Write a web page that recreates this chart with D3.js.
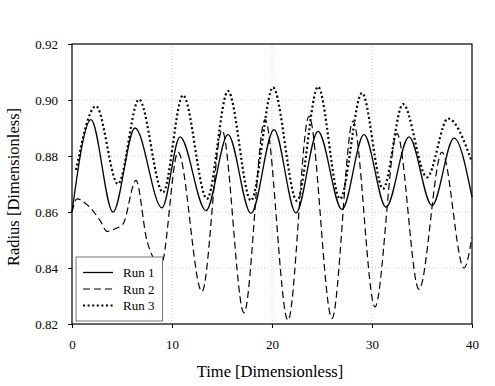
<!DOCTYPE html>
<html><head><meta charset="utf-8">
<script src="https://cdn.jsdelivr.net/npm/d3@7"></script>
<style>body{margin:0;background:#fff}svg{display:block}svg text{font-family:'Liberation Serif','Times New Roman',serif}</style>
</head><body>
<script>
// Data
const xTicks = [0, 10, 20, 30, 40];
const yTicks = [0.82, 0.84, 0.86, 0.88, 0.90, 0.92];
const seriesNames = ["Run 1", "Run 2", "Run 3"];

const run1T = [0, 1.9, 4.1, 6.3, 9.0, 10.8, 13.4, 15.6, 17.9, 20.2, 22.4, 24.6, 27.0, 29.2, 31.4, 33.7, 36.0, 38.2, 40];
const run1V = [0.860, 0.893, 0.860, 0.890, 0.8615, 0.8868, 0.8605, 0.8876, 0.8595, 0.8894, 0.8597, 0.8888, 0.8609, 0.8876, 0.8617, 0.8868, 0.8623, 0.8864, 0.8653];

const run2T = [0, 0.5, 1.6, 2.8, 3.5, 4.3, 5.1, 6.4, 7.5, 8.9, 10.6, 13.0, 15.0, 17.2, 19.3, 21.6, 23.7, 26.0, 28.1, 30.3, 32.5, 34.7, 37.0, 39.2, 40];
const run2V = [0.860, 0.8647, 0.8623, 0.857, 0.8531, 0.854, 0.8557, 0.8713, 0.8497, 0.841, 0.8814, 0.8316, 0.8892, 0.824, 0.893, 0.8213, 0.8942, 0.822, 0.8925, 0.8261, 0.888, 0.8324, 0.8814, 0.840, 0.851];

const run3T = [0.4, 2.4, 4.6, 6.7, 9.1, 11.1, 13.5, 15.6, 17.9, 20.1, 22.5, 24.6, 26.8, 29.0, 31.1, 33.1, 35.5, 37.6, 40];
const run3V = [0.875, 0.8978, 0.870, 0.9002, 0.867, 0.9017, 0.8647, 0.9032, 0.8641, 0.9045, 0.864, 0.9047, 0.8647, 0.9025, 0.8683, 0.8985, 0.8724, 0.8934, 0.8778];

const W = 495, H = 386;
const m = {left: 72, right: 23, top: 44, bottom: 62};
const pw = W - m.left - m.right, ph = H - m.top - m.bottom;
const font = "'Liberation Serif','Times New Roman',serif";

const svg = d3.select("body").append("svg").attr("width", W).attr("height", H)
  .style("font-family", font);
const g = svg.append("g").attr("transform", `translate(${m.left},${m.top})`);

const x = d3.scaleLinear().domain([0, 40]).range([0, pw]);
const y = d3.scaleLinear().domain([0.82, 0.92]).range([ph, 0]);

// grid
g.append("g").selectAll("line").data(xTicks.slice(1, -1)).join("line")
  .attr("x1", d => x(d)).attr("x2", d => x(d)).attr("y1", 0).attr("y2", ph)
  .attr("stroke", "#c8c8c8").attr("stroke-width", 1).attr("stroke-dasharray", "1,2");
g.append("g").selectAll("line").data(yTicks.slice(1, -1)).join("line")
  .attr("y1", d => y(d)).attr("y2", d => y(d)).attr("x1", 0).attr("x2", pw)
  .attr("stroke", "#c8c8c8").attr("stroke-width", 1).attr("stroke-dasharray", "1,2");

// series
const series = [
  {name: seriesNames[0], t: run1T, v: run1V, dash: null, w: 1.3},
  {name: seriesNames[1], t: run2T, v: run2V, dash: "7,4", w: 1.2},
  {name: seriesNames[2], t: run3T, v: run3V, dash: "2,2.6", w: 2.2}
];
const line = d3.line().x(d => x(d[0])).y(d => y(d[1])).curve(d3.curveMonotoneX);
series.forEach(s => {
  const pts = s.t.map((t, i) => [t, s.v[i]]);
  g.append("path").datum(pts).attr("d", line).attr("fill", "none")
    .attr("stroke", "#000").attr("stroke-width", s.w)
    .attr("stroke-dasharray", s.dash);
});

// axes
const xAxis = d3.axisBottom(x).tickValues(xTicks).tickSize(4).tickPadding(12).tickFormat(d3.format("d"));
const yAxis = d3.axisLeft(y).tickValues(yTicks).tickSize(4).tickPadding(10).tickFormat(d3.format(".2f"));
const gx = g.append("g").attr("transform", `translate(0,${ph})`).call(xAxis);
const gy = g.append("g").call(yAxis);
[gx, gy].forEach(a => {
  a.attr("font-family", null);
  a.select(".domain").remove();
  a.selectAll("line").attr("stroke", "#000");
  a.selectAll("text").attr("font-size", 13).style("font-family", font).attr("fill", "#000");
});
// frame
g.append("rect").attr("x", 0).attr("y", 0).attr("width", pw).attr("height", ph)
  .attr("fill", "none").attr("stroke", "#000").attr("stroke-width", 1.2);

// titles
svg.append("text").attr("x", 270).attr("y", 377).attr("text-anchor", "middle")
  .attr("font-size", 16.5).style("font-family", font).text("Time [Dimensionless]");
svg.append("text").attr("transform", "translate(19,187) rotate(-90)").attr("text-anchor", "middle")
  .attr("font-size", 16.5).style("font-family", font).text("Radius [Dimensionless]");

// legend
const lg = svg.append("g");
lg.append("rect").attr("x", 76).attr("y", 257).attr("width", 86.5).attr("height", 64)
  .attr("fill", "#fff").attr("stroke", "#777").attr("stroke-width", 1);
series.forEach((s, i) => {
  const yy = 272.5 + i * 16.5;
  lg.append("line").attr("x1", 83).attr("x2", 113).attr("y1", yy).attr("y2", yy)
    .attr("stroke", "#000").attr("stroke-width", s.w).attr("stroke-dasharray", s.dash);
  lg.append("text").attr("x", 123).attr("y", yy + 4.5).attr("font-size", 13)
    .style("font-family", font).text(s.name);
});
</script>
</body></html>
